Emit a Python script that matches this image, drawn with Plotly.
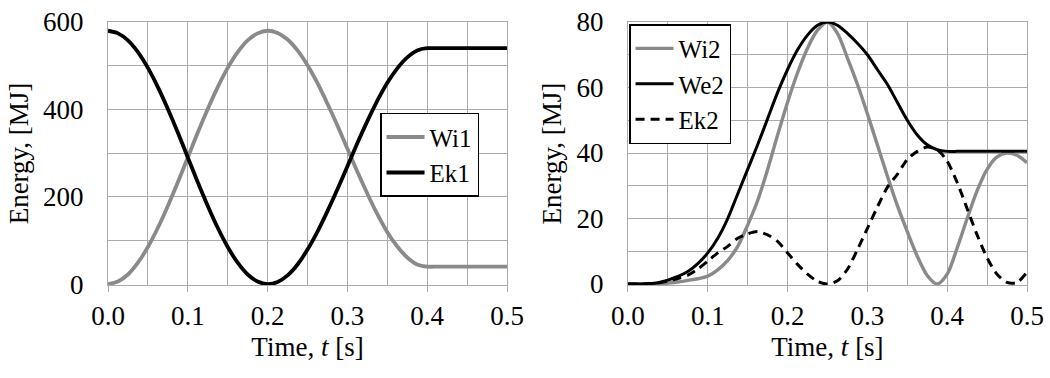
import plotly.graph_objects as go
from plotly.subplots import make_subplots

# Left chart data
t1 = [0, 0.0125, 0.025, 0.0375, 0.05, 0.0625, 0.075, 0.0875, 0.1, 0.1125, 0.125, 0.1375,
      0.15, 0.1625, 0.175, 0.1875, 0.2, 0.2125, 0.225, 0.2375, 0.25, 0.2625, 0.275, 0.2875,
      0.3, 0.3125, 0.325, 0.3375, 0.35, 0.3625, 0.375, 0.3875, 0.4, 0.4125, 0.425, 0.4375,
      0.45, 0.4625, 0.475, 0.4875, 0.5]
wi1 = [0, 6, 22, 49, 85, 129, 179, 233, 290, 347, 401, 451, 495, 531, 558, 574, 580,
       575, 560, 535, 501, 460, 413, 363, 310, 257, 207, 160, 119, 86, 61, 45, 40,
       40, 40, 40, 40, 40, 40, 40, 40]
ek1 = [580, 574, 558, 531, 495, 451, 401, 347, 290, 233, 179, 129, 85, 49, 22, 6, 0,
       5, 20, 45, 79, 120, 167, 217, 270, 323, 373, 420, 461, 494, 519, 535, 540,
       540, 540, 540, 540, 540, 540, 540, 540]

# Right chart data
t2 = [0, 0.0125, 0.025, 0.0375, 0.05, 0.0625, 0.075, 0.0875, 0.1, 0.1125, 0.125, 0.1375,
      0.15, 0.1625, 0.175, 0.1875, 0.2, 0.2125, 0.225, 0.2375, 0.25, 0.2625, 0.275, 0.2875,
      0.3, 0.3125, 0.325, 0.3375, 0.35, 0.3625, 0.375, 0.3875, 0.4, 0.4125, 0.425, 0.4375,
      0.45, 0.4625, 0.475, 0.4875, 0.5]
wi2 = [0, 0, 0, 0.1, 0.3, 0.6, 1.1, 1.6, 2.4, 4.3, 7.2, 11.5, 18, 25.5, 35, 45.5, 55.5,
       64.5, 72, 77.5, 80, 76.5, 69, 61, 52, 42.5, 33, 24, 16, 8.5, 2.6, 0, 3, 11, 20,
       28.5, 35, 38.8, 40, 39.3, 37]
we2 = [0, 0, 0.1, 0.4, 1.2, 2.3, 3.8, 6.2, 9.5, 14, 20, 27.5, 35, 42.5, 50.5, 58.5, 65.5,
       71.5, 76, 79, 80, 79, 76.5, 73.5, 70, 65.5, 61, 55.5, 50, 45.5, 42.5, 41, 40.5, 40.5,
       40.5, 40.5, 40.5, 40.5, 40.5, 40.5, 40.5]
ek2 = [0, 0, 0.1, 0.3, 0.9, 1.7, 2.7, 4.6, 7, 9.5, 11.5, 14, 15.3, 16, 15, 13, 9.5,
       6, 3, 0.8, 0, 1, 4.5, 10.5, 17, 23.5, 29.5, 33.5, 38, 40.5, 41.8, 41, 37.5, 31, 23,
       15, 8, 3, 0.5, 0.5, 3.6]

x_ticks = [0.0, 0.1, 0.2, 0.3, 0.4, 0.5]
x_tick_labels = ["0.0", "0.1", "0.2", "0.3", "0.4", "0.5"]

GRAY = "#8a8a8a"
GRID = "#ababab"
FONT = "Liberation Serif"
FS = 27

fig = make_subplots(rows=1, cols=2, horizontal_spacing=0.1316)

fig.add_trace(go.Scatter(x=t1, y=wi1, name="Wi1", mode="lines",
                         line=dict(color=GRAY, width=3.8, shape="spline", smoothing=0.8),
                         legend="legend"), 1, 1)
fig.add_trace(go.Scatter(x=t1, y=ek1, name="Ek1", mode="lines",
                         line=dict(color="black", width=3.8, shape="spline", smoothing=0.8),
                         legend="legend"), 1, 1)

fig.add_trace(go.Scatter(x=t2, y=wi2, name="Wi2", mode="lines",
                         line=dict(color=GRAY, width=3.4, shape="spline", smoothing=0.8),
                         legend="legend2"), 1, 2)
fig.add_trace(go.Scatter(x=t2, y=we2, name="We2", mode="lines",
                         line=dict(color="black", width=3.0, shape="spline", smoothing=0.8),
                         legend="legend2"), 1, 2)
fig.add_trace(go.Scatter(x=t2, y=ek2, name="Ek2", mode="lines",
                         line=dict(color="black", width=3.0, shape="spline", smoothing=0.8,
                                   dash="9px,6px"),
                         legend="legend2"), 1, 2)

axis_common = dict(
    showgrid=True, gridcolor=GRID, gridwidth=1.3,
    showline=True, linecolor=GRID, linewidth=1.3, mirror=True,
    zeroline=False, automargin=False,
    tickfont=dict(family=FONT, size=FS, color="black"),
)
title_font = dict(family=FONT, size=FS, color="black")

for c in (1, 2):
    fig.update_xaxes(
        range=[0, 0.5], tickvals=x_ticks, ticktext=x_tick_labels,
        ticks="outside", ticklen=6, tickcolor=GRID, tickwidth=1.3,
        minor=dict(dtick=0.05, tick0=0, showgrid=True, gridcolor=GRID, gridwidth=1.3),
        title=dict(text="Time, <i>t</i> [s]", font=title_font, standoff=7),
        **axis_common, row=1, col=c)

fig.update_yaxes(range=[-2, 600], tickvals=[0, 200, 400, 600], ticks="",
                 minor=dict(dtick=100, tick0=0, showgrid=True, gridcolor=GRID, gridwidth=1.3),
                 title=dict(text="Energy, [MJ]", font=title_font, standoff=6),
                 ticklabelstandoff=18,
                 **axis_common, row=1, col=1)
fig.update_yaxes(range=[-0.3, 80], tickvals=[0, 20, 40, 60, 80], ticks="",
                 minor=dict(dtick=10, tick0=0, showgrid=True, gridcolor=GRID, gridwidth=1.3),
                 title=dict(text="Energy, [MJ]", font=title_font, standoff=6),
                 ticklabelstandoff=18,
                 **axis_common, row=1, col=2)

fig.update_xaxes(domain=[0, 0.4342], row=1, col=1)
fig.update_xaxes(domain=[0.5658, 1.0], row=1, col=2)

legend_common = dict(bgcolor="white", bordercolor="black", borderwidth=1.5,
                     font=dict(family=FONT, size=25, color="black"),
                     xanchor="left", yanchor="top", tracegroupgap=0,
                     itemwidth=38)

fig.update_layout(
    width=1050, height=378,
    margin=dict(l=108, r=23, t=22, b=93),
    paper_bgcolor="white", plot_bgcolor="white",
    font=dict(family=FONT, size=FS, color="black"),
    legend=dict(x=0.2960, y=0.655, **legend_common),
    legend2=dict(x=0.567, y=0.992, **legend_common),
    showlegend=True,
)

fig.write_html("out.html", config={"displayModeBar": False},
               post_script="document.body.style.margin='0';")
